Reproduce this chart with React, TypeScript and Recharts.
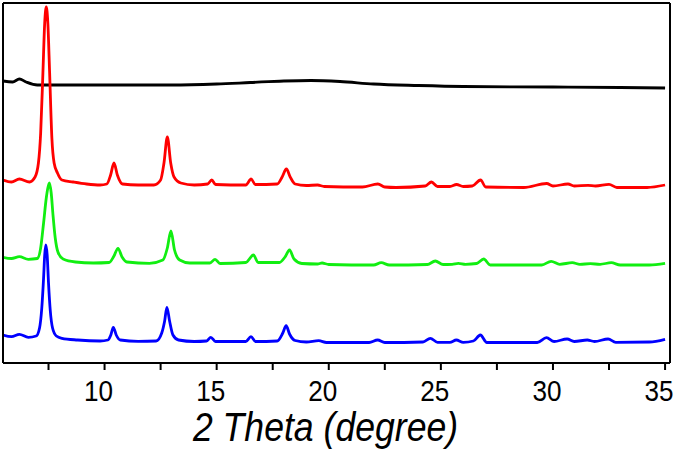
import { Line, LineChart, XAxis, YAxis } from "recharts";

// 2θ (degree) and intensity (a.u., stacked)
const blackTheta = [5.47, 5.9, 6.2, 6.5, 7.0, 10, 13, 15, 16.5, 18, 19.2, 20.5, 22, 24, 26, 30, 33, 35];
const blackIntensity = [282, 281, 284, 281, 278, 278, 278, 279, 280.5, 282, 282.5, 281.5, 279, 277.5, 276.5, 276, 275.5, 275];

const redTheta = [
  5.47, 5.85, 6.2, 6.65, 6.9, 7.05, 7.15, 7.25, 7.33, 7.4, 7.47, 7.55, 7.65, 7.75, 7.9, 8.1, 8.6, 9.2,
  9.8, 10.1, 10.27, 10.42, 10.57, 10.8, 11.5, 12.2, 12.5, 12.65, 12.8, 12.95, 13.1, 13.4, 14.0, 14.6,
  14.78, 14.95, 16.3, 16.54, 16.72, 17.7, 17.92, 18.11, 18.28, 18.5, 19.0, 19.5, 19.8, 21.5, 22.19,
  22.5, 23.0, 24.3, 24.58, 24.85, 25.4, 25.7, 26.0, 26.4, 26.77, 27.0, 28.7, 29.72, 30.0, 30.67, 30.95,
  31.56, 31.9, 32.5, 32.85, 34.2, 35,
];
const redIntensity = [
  183, 181, 184, 181, 186, 200, 230, 290, 340, 356, 340, 290, 225, 200, 190, 183, 181, 179,
  178, 179, 188, 200, 188, 179, 178, 178, 183, 200, 226, 200, 186, 180, 178, 179,
  183, 178.5, 178, 184, 178.5, 179, 186, 194, 186, 179, 177.5, 178, 176.5, 176, 179,
  176, 175.5, 177, 181, 176.5, 176.5, 178.5, 176.5, 177, 183, 176, 175.5, 179.5, 177, 179, 177,
  177.7, 177, 178.7, 175.5, 175.5, 178,
];

const greenTheta = [
  5.47, 5.85, 6.2, 6.6, 7.0, 7.15, 7.28, 7.4, 7.47, 7.54, 7.62, 7.7, 7.8, 7.92, 8.15, 8.7, 9.5,
  10.2, 10.42, 10.6, 10.78, 11.0, 12.0, 12.6, 12.8, 12.96, 13.12, 13.35, 13.8, 14.7, 14.93, 15.15,
  16.3, 16.64, 16.85, 17.8, 18.05, 18.25, 18.45, 18.8, 19.5, 19.7, 20.0, 22.0, 22.34, 22.7, 24.4,
  24.75, 25.1, 25.5, 25.78, 26.1, 26.6, 26.91, 27.2, 29.5, 29.92, 30.3, 30.86, 31.2, 31.67, 32.1,
  32.6, 33.0, 34.3, 35,
];
const greenIntensity = [
  105.7, 104.5, 106.3, 103.7, 104.5, 115, 140, 165, 175, 180, 170, 148, 125, 111, 104, 101, 100,
  100.5, 107, 114.7, 106, 101, 99.7, 103, 115, 132, 113, 103, 100, 100, 103.7, 99.5,
  100.5, 108, 100.5, 100.5, 106, 113, 104, 99.5, 99, 100, 98.5, 98, 100.3, 98, 98.5,
  102, 98.5, 98.7, 99.7, 98.7, 99.5, 104, 98, 98, 101.7, 98.7, 100.3, 98.7, 99.3, 98.7,
  100.3, 98, 98, 99.7,
];

const blueTheta = [
  5.47, 5.85, 6.2, 6.6, 6.95, 7.1, 7.2, 7.28, 7.33, 7.38, 7.44, 7.5, 7.58, 7.68, 7.85, 8.1, 8.8,
  9.8, 10.15, 10.28, 10.39, 10.52, 10.7, 11.5, 12.3, 12.55, 12.68, 12.78, 12.9, 13.05, 13.3, 14.0,
  14.55, 14.74, 14.95, 16.3, 16.53, 16.73, 17.7, 17.95, 18.1, 18.25, 18.5, 19.0, 19.55, 19.9, 21.8,
  22.18, 22.5, 24.2, 24.53, 24.85, 25.4, 25.69, 26.0, 26.45, 26.76, 27.05, 29.3, 29.71, 30.05, 30.63,
  30.95, 31.53, 31.85, 32.46, 32.8, 34.3, 35,
];
const blueIntensity = [
  28, 26.3, 28.7, 25.7, 27, 35, 55, 85, 108, 118, 108, 80, 52, 35, 27, 24.7, 23,
  22, 23, 28, 35.7, 28, 23, 21.7, 22, 30, 42, 55.7, 42, 28, 23, 21.5,
  22, 25.7, 21.5, 21.5, 26.3, 21.5, 22, 30, 37.3, 29, 22.5, 21, 22.3, 20.5, 20.5,
  23, 20.5, 21, 24.7, 20.7, 20.7, 23, 20.7, 22, 28, 20.5, 20.5, 25.3, 21.5, 24,
  21.5, 23, 21.5, 24, 20.7, 21, 23.7,
];

const xTicks = [7.5, 10, 12.5, 15, 17.5, 20, 22.5, 25, 27.5, 30, 32.5, 35];

const FONT = "'Liberation Sans', Arial, sans-serif";

const toPoints = (theta: number[], intensity: number[]) =>
  theta.map((t, i) => ({ t, v: intensity[i] }));

const series = [
  { name: "black", color: "#000000", data: toPoints(blackTheta, blackIntensity) },
  { name: "red", color: "#ff0000", data: toPoints(redTheta, redIntensity) },
  { name: "green", color: "#11ee11", data: toPoints(greenTheta, greenIntensity) },
  { name: "blue", color: "#0000ff", data: toPoints(blueTheta, blueIntensity) },
];

function ThetaTick({ x, y, payload }: any) {
  const value = payload?.value;
  const label = value % 5 === 0 ? String(value) : "";
  return (
    <g transform={`translate(${x - 6},${y})`}>
      <text
        transform="scale(0.9,1)"
        textAnchor="middle"
        dy="0.71em"
        fontSize={29}
        fontFamily={FONT}
        fill="#000"
      >
        {label}
      </text>
    </g>
  );
}

function AxisTitle(props: any) {
  const vb = props.viewBox ?? { x: 3, y: 363, width: 667, height: 88 };
  const cx = vb.x + vb.width / 2 - 11;
  return (
    <g transform={`translate(${cx},${vb.y + 78})`}>
      <text
        transform="scale(0.89,1)"
        textAnchor="middle"
        fontSize={40}
        fontStyle="italic"
        fontFamily={FONT}
        fill="#000"
      >
        2 Theta (degree)
      </text>
    </g>
  );
}

export default function App() {
  const frame = { stroke: "#000", strokeWidth: 2 };
  return (
    <div style={{ position: "absolute", left: 0, top: 0, background: "#fff" }}>
      <LineChart width={675} height={451} margin={{ top: 2, right: 4, bottom: 0, left: 2 }}>
        <XAxis
          dataKey="t"
          type="number"
          domain={[5.47, 35.22]}
          allowDataOverflow
          ticks={xTicks}
          interval={0}
          height={88}
          tickSize={7}
          tickMargin={10}
          axisLine={frame}
          tickLine={frame}
          tick={<ThetaTick />}
          label={{ content: AxisTitle }}
        />
        <XAxis
          xAxisId="top"
          orientation="top"
          type="number"
          domain={[5.47, 35.22]}
          height={1}
          tick={false}
          tickLine={false}
          axisLine={frame}
        />
        <YAxis type="number" domain={[0, 360]} width={1} tick={false} tickLine={false} axisLine={frame} />
        <YAxis
          yAxisId="right"
          orientation="right"
          type="number"
          domain={[0, 360]}
          width={1}
          tick={false}
          tickLine={false}
          axisLine={frame}
        />
        {series.map((s) => (
          <Line
            key={s.name}
            data={s.data}
            dataKey="v"
            type="monotone"
            stroke={s.color}
            strokeWidth={2.8}
            dot={false}
            activeDot={false}
            isAnimationActive={false}
          />
        ))}
      </LineChart>
    </div>
  );
}
